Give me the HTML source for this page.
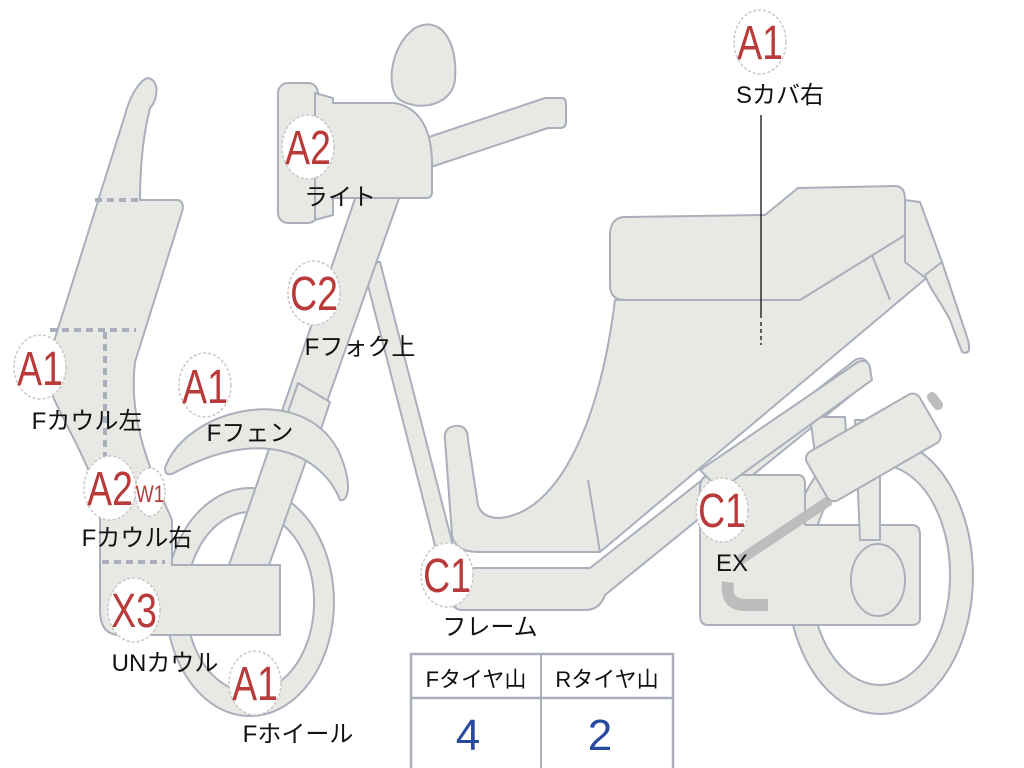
<!DOCTYPE html>
<html><head><meta charset="utf-8"><style>
html,body{margin:0;padding:0;background:#fff;width:1024px;height:768px;overflow:hidden}
svg{display:block}
.s{fill:#e8e8e4;stroke:#a9b0bb;stroke-width:2;stroke-linejoin:round}
.b{fill:#fff;stroke:#c8c8c8;stroke-width:1.5;stroke-dasharray:3 2}
.r{fill:#b83a3a;font-family:"Liberation Sans",sans-serif;font-size:48px;text-anchor:middle}
.l{fill:#111;font-family:"Liberation Sans","Noto Sans CJK JP",sans-serif;font-size:24px;text-anchor:middle}
.d{stroke:#a9b0bb;stroke-width:4;stroke-dasharray:7 5;fill:none}
</style></head><body>
<svg width="1024" height="768" viewBox="0 0 1024 768" xmlns="http://www.w3.org/2000/svg">
<path class="s" fill-rule="evenodd" d="M880,438 A93,138 0 1,1 879.9,438 Z M880,465 A70,110 0 1,0 880.1,465 Z"/>
<path class="s" fill-rule="evenodd" d="M250,488 A84,114 0 1,1 249.9,488 Z M250,512 A64,90 0 1,0 250.1,512 Z"/>
<path class="s" d="M415,28 C440,15 458,40 455,80 C452,105 420,112 400,100 C385,90 390,45 415,28 Z"/>
<path class="s" d="M420,140 L545,98 L562,98 Q566,98 566,105 L566,122 Q566,128 560,128 L548,128 L428,168 Z"/>
<path class="s" d="M362,262 L380,262 L458,565 L440,565 Z"/>
<path class="s" d="M358,190 L402,190 L268,568 L228,568 Z"/>
<path class="s" d="M298,383 L330,402 L320,432 L288,412 Z"/>
<rect class="s" x="278" y="83" width="40" height="140" rx="10"/>
<path class="s" d="M315,93 L333,98 L333,103 L395,103 Q430,110 432,160 L432,192 Q432,198 426,198 L333,198 L333,215 L315,220 Z"/>
<path class="s" d="M165,468 C185,410 300,380 338,450 C352,480 350,502 340,500 C322,455 262,425 176,472 Q165,478 165,468 Z"/>
<path class="s" d="M148,78 C160,80 158,100 150,108 C142,140 140,170 140,200 L178,200 Q185,202 182,212 L135,362 C128,420 150,470 172,520 L172,565 L280,565 L280,635 L120,635 Q100,635 100,610 L100,500 C80,440 48,400 45,370 L125,115 C130,95 140,80 148,78 Z"/>
<path class="d" d="M95,200 L140,200 M50,330 L136,330 M105,332 L105,470 M102,562 L165,562"/>
<path class="s" d="M445,440 Q443,425 460,426 Q468,428 468,440 L478,505 Q482,518 500,518 C560,512 600,420 615,300 L800,300 L905,235 L942,265 L600,552 L478,552 Q455,552 452,535 Z"/>
<path class="s" d="M870,250 L890,300" style="fill:none"/>
<path class="s" d="M588,480 L600,552" style="fill:none"/>
<path class="s" d="M455,568 L590,568 L855,360 Q865,355 868,365 L870,380 L605,595 Q600,610 585,610 L462,610 Q450,610 450,590 Z"/>
<path class="s" d="M625,217 L765,215 L798,188 L895,186 Q905,186 905,200 L905,235 L800,300 L625,300 Q610,300 610,285 L610,232 Q612,217 625,217 Z"/>
<path class="s" d="M905,200 L920,202 L942,262 L928,280 L905,262 Z"/>
<path class="s" d="M925,275 L942,262 L968,340 Q972,356 962,352 L950,320 C940,300 930,290 925,275 Z"/>
<path class="s" d="M712,475 L798,475 Q805,475 805,485 L805,525 L912,525 Q920,525 920,535 L920,618 Q920,625 912,625 L708,625 Q700,625 700,615 L700,488 Q700,475 712,475 Z"/>
<path class="s" d="M810,417 L845,417 L848,465 L818,475 Z"/>
<path class="s" d="M855,420 L880,420 L880,540 L860,540 Z"/>
<ellipse class="s" cx="878" cy="580" rx="27" ry="36"/>
<path class="s" d="M700,470 L858,362 Q868,358 870,368 L872,380 L720,490 Z"/>
<path d="M728,582 Q725,605 745,605 L768,605" stroke="#bdbdbd" stroke-width="12" fill="none"/>
<path d="M740,560 L830,500" stroke="#bdbdbd" stroke-width="10" fill="none"/>
<path d="M932,397 L938,405" stroke="#bdbdbd" stroke-width="10" stroke-linecap="round"/>
<g transform="rotate(-30 872 447)"><rect class="s" x="808" y="420" width="130" height="56" rx="8"/></g>
<rect x="411" y="654" width="262" height="116" fill="#fff" stroke="#a9b0bb" stroke-width="2.5"/>
<line x1="411" y1="698" x2="673" y2="698" stroke="#a9b0bb" stroke-width="2.5"/>
<line x1="541" y1="654" x2="541" y2="768" stroke="#a9b0bb" stroke-width="2"/>
<text class="l" x="476" y="687" style="font-size:22px">Fタイヤ山</text>
<text class="l" x="607" y="687" style="font-size:22px">Rタイヤ山</text>
<text x="468" y="750" fill="#2a4aa0" font-family="Liberation Sans,sans-serif" font-size="44" text-anchor="middle">4</text>
<text x="600" y="750" fill="#2a4aa0" font-family="Liberation Sans,sans-serif" font-size="44" text-anchor="middle">2</text>
<line x1="761" y1="115" x2="761" y2="318" stroke="#111" stroke-width="1.3"/>
<line x1="761" y1="322" x2="761" y2="345" stroke="#111" stroke-width="1.3" stroke-dasharray="4 3"/>
<g>
<ellipse class="b" cx="760" cy="42" rx="26" ry="32"/><text class="r" transform="translate(760 59) scale(0.78 1)">A1</text>
<text class="l" x="780" y="103">Sカバ右</text>
<ellipse class="b" cx="308" cy="147" rx="26" ry="32"/><text class="r" transform="translate(308 164) scale(0.78 1)">A2</text>
<text class="l" x="340" y="205">ライト</text>
<ellipse class="b" cx="314" cy="293" rx="26" ry="32"/><text class="r" transform="translate(314 310) scale(0.78 1)">C2</text>
<text class="l" x="360" y="355">Fフォク上</text>
<ellipse class="b" cx="40" cy="367" rx="26" ry="32"/><text class="r" transform="translate(40 385) scale(0.78 1)">A1</text>
<text class="l" x="87" y="429">Fカウル左</text>
<ellipse class="b" cx="205" cy="385" rx="26" ry="32"/><text class="r" transform="translate(205 403) scale(0.78 1)">A1</text>
<text class="l" x="250" y="441">Fフェン</text>
<ellipse class="b" cx="110" cy="488" rx="26" ry="32"/><text class="r" transform="translate(110 505) scale(0.78 1)">A2</text>
<ellipse class="b" cx="150" cy="492" rx="15" ry="24"/><text transform="translate(150 502) scale(0.8 1)" fill="#b83a3a" font-family="Liberation Sans,sans-serif" font-size="24" text-anchor="middle">W1</text>
<text class="l" x="137" y="546">Fカウル右</text>
<ellipse class="b" cx="134" cy="610" rx="26" ry="32"/><text class="r" transform="translate(134 627) scale(0.78 1)">X3</text>
<text class="l" x="165" y="671">UNカウル</text>
<ellipse class="b" cx="255" cy="683" rx="26" ry="32"/><text class="r" transform="translate(255 700) scale(0.78 1)">A1</text>
<text class="l" x="298" y="742">Fホイール</text>
<ellipse class="b" cx="447" cy="575" rx="26" ry="32"/><text class="r" transform="translate(447 592) scale(0.78 1)">C1</text>
<text class="l" x="490" y="635">フレーム</text>
<ellipse class="b" cx="722" cy="510" rx="26" ry="32"/><text class="r" transform="translate(722 527) scale(0.78 1)">C1</text>
<text class="l" x="732" y="571">EX</text>
</g>
</svg>
</body></html>
